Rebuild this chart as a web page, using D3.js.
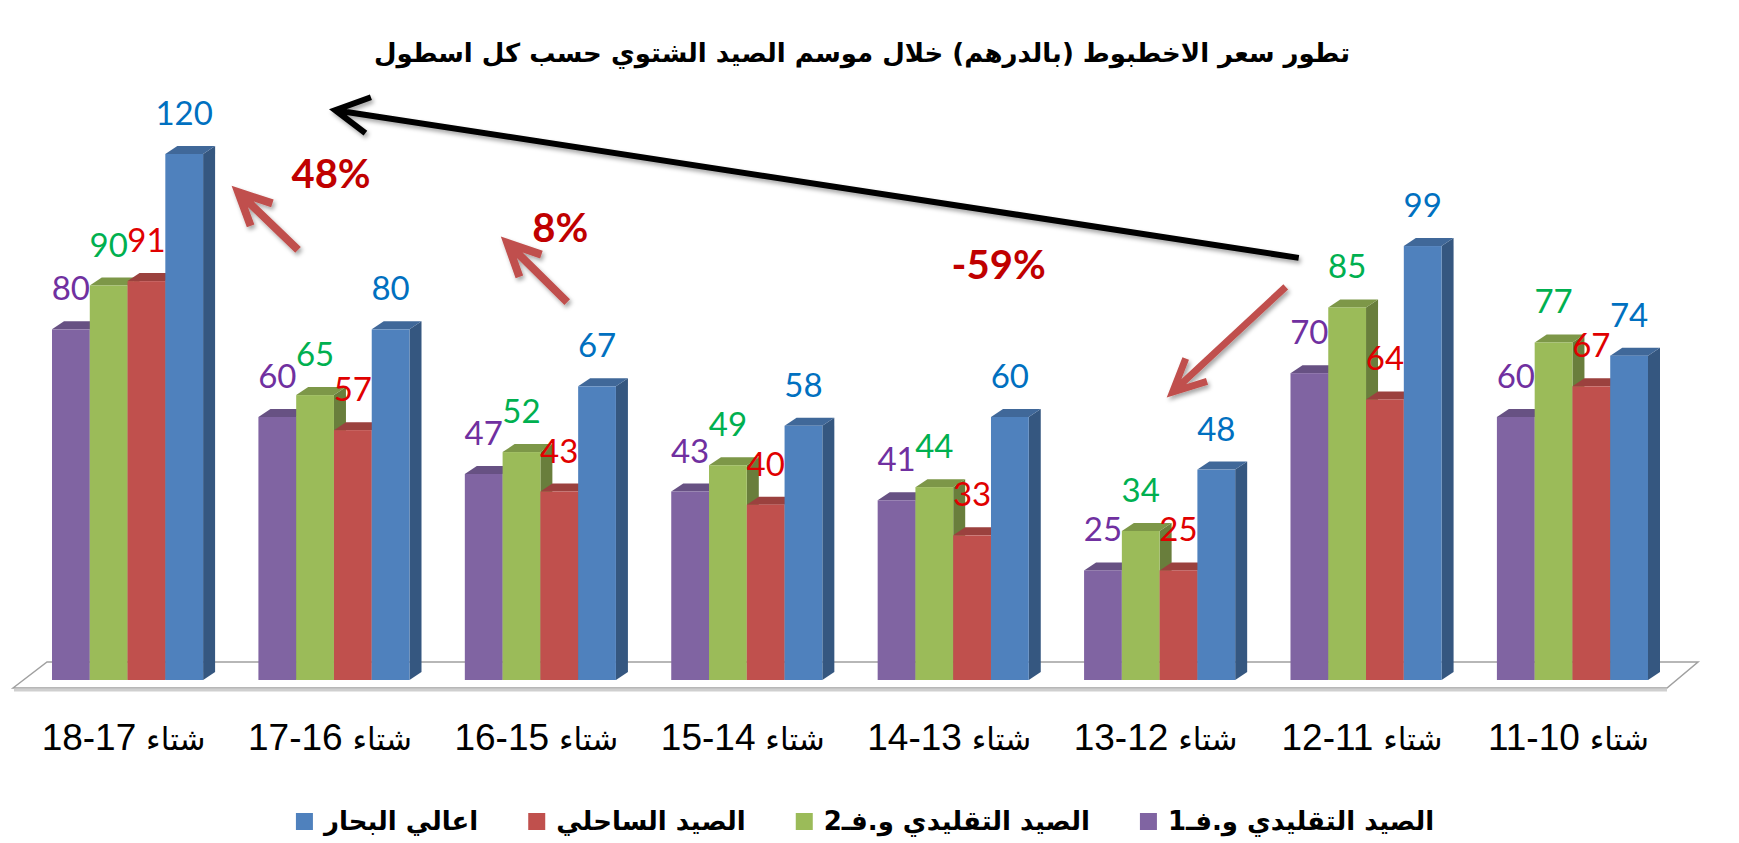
<!DOCTYPE html>
<meta charset="utf-8">
<style>
body { margin: 0; background: #fff; }
svg { display: block; }
</style>
<script src="https://d3js.org/d3.v7.min.js"></script>
<div id="chart"></div>
<script>

// data
const categories = ["شتاء 18-17", "شتاء 17-16", "شتاء 16-15", "شتاء 15-14",
                    "شتاء 14-13", "شتاء 13-12", "شتاء 12-11", "شتاء 11-10"];
const seriesNames = ["الصيد التقليدي و.فـ1", "الصيد التقليدي و.فـ2", "الصيد الساحلي", "اعالي البحار"];
const fleet1  = [80, 60, 47, 43, 41, 25, 70, 60];
const fleet2  = [90, 65, 52, 49, 44, 34, 85, 77];
const coastal = [91, 57, 43, 40, 33, 25, 64, 67];
const highSea = [120, 80, 67, 58, 60, 48, 99, 74];
const changeLabels = ["48%", "8%", "-59%"];
const title = "تطور سعر الاخطبوط (بالدرهم) خلال موسم الصيد الشتوي حسب كل اسطول";

const barColors   = ["#8064a2", "#9bbb59", "#c0504d", "#4f81bd"];
const labelColors = ["#7030a0", "#00b050", "#e00000", "#0070c0"];
const allSeries = [fleet1, fleet2, coastal, highSea];

const W = 1739, H = 843;
const svg = d3.select("#chart").append("svg")
    .attr("width", W).attr("height", H);

svg.append("rect").attr("width", W).attr("height", H).attr("fill", "#fff");

const defs = svg.append("defs");
defs.append("filter").attr("id", "shadow")
    .attr("x", "-20%").attr("y", "-20%").attr("width", "140%").attr("height", "140%")
  .append("feDropShadow")
    .attr("dx", 2).attr("dy", 3).attr("stdDeviation", 2)
    .attr("flood-color", "#000").attr("flood-opacity", 0.35);

// scales
const x0 = d3.scaleBand().domain(categories).range([52, 1648]).paddingInner(0.268);
const x1 = d3.scaleBand().domain(d3.range(4)).range([0, x0.bandwidth()]);
const y = d3.scaleLinear().domain([0, 120]).range([680, 154]);
// group index -> pixel (left edge of a group), used for the annotations
const gx = d3.scaleLinear().domain([0, 1]).range([x0(categories[0]), x0(categories[1])]);

const dx = 12, dy = 8;   // 3d depth

// floor
const [xa, xb] = x0.range();
const y0 = y(0);
svg.append("polygon")
    .attr("points", [[xa - 39, y0 + 8], [xa - 5, y0 - 18], [xb + 50, y0 - 18], [xb + 19, y0 + 8]].join(" "))
    .attr("fill", "#fff").attr("stroke", "#a0a0a0").attr("stroke-width", 1.5);
svg.append("line")
    .attr("x1", xa - 38).attr("x2", xb + 19).attr("y1", y0 + 10).attr("y2", y0 + 10)
    .attr("stroke", "#cfcfcf").attr("stroke-width", 3);

// bars
const bars = svg.append("g");
categories.forEach((c, i) => {
  allSeries.forEach((vals, s) => {
    const x = x0(c) + x1(s), w = x1.bandwidth();
    const yt = y(vals[i]);
    const col = d3.color(barColors[s]);
    const g = bars.append("g");
    g.append("polygon")
      .attr("points", [[x + w, yt], [x + w + dx, yt - dy], [x + w + dx, y0 - dy], [x + w, y0]].join(" "))
      .attr("fill", col.darker(1.1));
    g.append("polygon")
      .attr("points", [[x, yt], [x + dx, yt - dy], [x + w + dx, yt - dy], [x + w, yt]].join(" "))
      .attr("fill", col.darker(0.6));
    g.append("rect")
      .attr("x", x).attr("y", yt).attr("width", w).attr("height", y0 - yt)
      .attr("fill", barColors[s]);
  });
});

// value labels
categories.forEach((c, i) => {
  allSeries.forEach((vals, s) => {
    svg.append("text")
      .attr("x", x0(c) + x1(s) + x1.bandwidth() / 2)
      .attr("y", y(vals[i]) - 29)
      .attr("text-anchor", "middle")
      .attr("font-family", "Lato, 'Open Sans', sans-serif")
      .attr("font-size", 33)
      .attr("fill", labelColors[s])
      .text(vals[i]);
  });
});

// category axis: number on the left, Arabic word on the right
const axis = svg.append("g")
    .attr("transform", `translate(0, ${y0})`)
    .call(d3.axisBottom(x0).tickSize(0));
axis.select(".domain").remove();
axis.selectAll(".tick text").each(function(d) {
  const [word, num] = d.split(" ");
  const t = d3.select(this).text(null)
    .attr("x", -4).attr("y", 70).attr("dy", 0)
    .attr("direction", "ltr")
    .attr("fill", "#000");
  t.append("tspan")
    .attr("font-family", "'Liberation Sans Narrow', 'Liberation Sans', sans-serif")
    .attr("font-size", 37)
    .text(num);
  t.append("tspan")
    .attr("font-family", "'DejaVu Sans', sans-serif")
    .attr("font-size", 31)
    .text(" " + word);
});

// title
svg.append("text")
    .attr("x", 862).attr("y", 62)
    .attr("text-anchor", "middle")
    .attr("direction", "rtl")
    .attr("font-family", "'DejaVu Sans', sans-serif")
    .attr("font-weight", "bold")
    .attr("font-size", 26)
    .text(title);

// arrows
function arrow(from, to, color, width, arm, angle) {
  const p0 = [gx(from[0]), y(from[1])], p1 = [gx(to[0]), y(to[1])];
  const a = Math.atan2(p0[1] - p1[1], p0[0] - p1[0]);
  const l = [p1[0] + arm * Math.cos(a - angle), p1[1] + arm * Math.sin(a - angle)];
  const r = [p1[0] + arm * Math.cos(a + angle), p1[1] + arm * Math.sin(a + angle)];
  svg.append("path")
    .attr("d", `M${p0}L${p1}M${l}L${p1}L${r}`)
    .attr("fill", "none").attr("stroke", color).attr("stroke-width", width)
    .attr("stroke-linejoin", "miter").attr("stroke-linecap", "butt")
    .attr("filter", "url(#shadow)");
}
arrow([6.04, 96.3], [1.372, 130.0], "#000", 6, 38, 0.5);
arrow([1.192, 98.1], [0.902, 111.3], "#c0504d", 8, 36, 0.45);
arrow([2.496, 86.2], [2.206, 99.7], "#c0504d", 8, 36, 0.45);
arrow([5.977, 89.7], [5.429, 65.7], "#c0504d", 7, 36, 0.45);

// change labels
const changePos = [[1.352, 115.4], [2.462, 103.1], [4.586, 94.7]];
changeLabels.forEach((t, k) => {
  svg.append("text")
    .attr("x", gx(changePos[k][0])).attr("y", y(changePos[k][1]))
    .attr("dy", "0.35em")
    .attr("text-anchor", "middle")
    .attr("font-family", "Lato, 'Open Sans', sans-serif")
    .attr("font-weight", "bold")
    .attr("font-size", 40)
    .attr("fill", "#c00000")
    .text(t);
});

// legend (right to left: series 0 on the right)
const legend = svg.append("g");
const order = [3, 2, 1, 0];
const items = order.map(s => {
  const g = legend.append("g");
  g.append("rect").attr("width", 17).attr("height", 17).attr("y", -17).attr("fill", barColors[s]);
  const t = g.append("text")
    .attr("x", 28).attr("y", 0)
    .attr("text-anchor", "end")
    .attr("direction", "rtl")
    .attr("font-family", "'DejaVu Sans', sans-serif")
    .attr("font-weight", "bold")
    .attr("font-size", 26)
    .text(seriesNames[s]);
  const tw = t.node().getComputedTextLength();
  return { g, w: 28 + tw };
});
const gap = 50;
const total = d3.sum(items, d => d.w) + gap * (items.length - 1);
let cx = 865 - total / 2;
items.forEach(d => {
  d.g.attr("transform", `translate(${cx}, 830)`);
  cx += d.w + gap;
});

</script>
